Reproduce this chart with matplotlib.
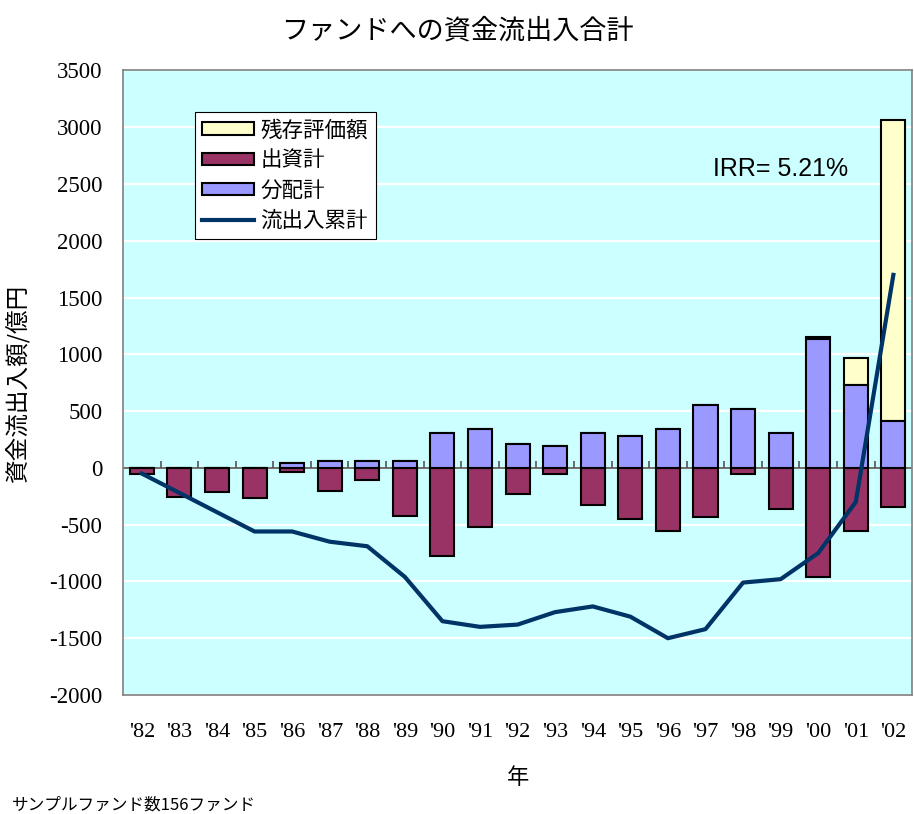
import matplotlib
matplotlib.use("Agg")
import matplotlib.pyplot as plt
import numpy as np

plt.rcParams['font.family'] = ['Noto Sans CJK JP', 'DejaVu Sans']

years = ["'82", "'83", "'84", "'85", "'86", "'87", "'88", "'89", "'90", "'91", "'92",
         "'93", "'94", "'95", "'96", "'97", "'98", "'99", "'00", "'01", "'02"]
distribution = [0, 0, 0, 0, 45, 60, 60, 60, 308, 343, 211, 193, 308, 281, 343, 554, 519, 308, 1135, 730, 413]
investment = [-50, -255, -215, -265, -40, -200, -110, -420, -780, -520, -228, -53, -325, -450, -553, -430, -53, -360, -965, -555, -343]
residual = [0, 0, 0, 0, 0, 0, 0, 0, 0, 0, 0, 0, 0, 0, 0, 0, 0, 0, 15, 237, 2655]
cumulative = [-50, -220, -390, -560, -560, -650, -690, -960, -1350, -1400, -1380, -1270, -1220,
              -1310, -1500, -1420, -1010, -980, -750, -300, 1700]
yticks = [-2000, -1500, -1000, -500, 0, 500, 1000, 1500, 2000, 2500, 3000, 3500]

fig = plt.figure(figsize=(9.14, 8.14), dpi=100)
ax = fig.add_axes([0.1346, 0.1462, 0.8634, 0.7672])
ax.set_facecolor('#CCFFFF')

x = np.arange(len(years))
w = 0.64
dist = np.array(distribution)
resid = np.array(residual)
b_res = ax.bar(x, resid, w, bottom=dist, color='#FFFFCC', edgecolor='black', linewidth=1.5,
               label='残存評価額', zorder=3)
b_inv = ax.bar(x, investment, w, color='#993366', edgecolor='black', linewidth=1.5,
               label='出資計', zorder=3)
b_dis = ax.bar(x, dist, w, color='#9999FF', edgecolor='black', linewidth=1.5,
               label='分配計', zorder=3)
ln, = ax.plot(x, cumulative, color='#003366', linewidth=3, label='流出入累計', zorder=4)

# zero axis with category tick marks
ax.axhline(0, color='#555555', linewidth=1.2, zorder=2.5)
bounds = np.arange(len(years) + 1) - 0.5
ax.vlines(bounds[1:-1], 0, 60, color='#555555', linewidth=1.2, zorder=2.5)

ax.set_xlim(-0.5, len(years) - 0.5)
ax.set_ylim(-2000, 3500)
ax.set_yticks(yticks)
ax.set_yticklabels([str(v) for v in yticks], fontfamily='Liberation Serif', fontsize=16.5)
ax.yaxis.grid(True, color='white', linewidth=1.6, zorder=1)
ax.set_axisbelow(True)
ax.tick_params(axis='y', length=0, pad=15)
ax.set_xticks(x)
ax.set_xticklabels(years, fontfamily='Liberation Serif', fontsize=16)
ax.tick_params(axis='x', length=0, pad=20)
for s in ax.spines.values():
    s.set_color('#808080')
    s.set_linewidth(1.2)

ax.set_xlabel('年', fontsize=16)
ax.xaxis.set_label_coords(0.5, -0.114)
ax.set_ylabel('資金流出入額/億円', fontsize=17)
ax.yaxis.set_label_coords(-0.118, 0.5)
fig.text(0.5, 0.962, 'ファンドへの資金流出入合計', ha='center', va='center', fontsize=19.5)
fig.text(0.013, 0.011, 'サンプルファンド数156ファンド', ha='left', va='center', fontsize=12)
ax.text(0.7475, 0.842, 'IRR= 5.21%', transform=ax.transAxes, fontfamily='Liberation Sans',
        fontsize=18, ha='left', va='center')

leg = ax.legend([b_res, b_inv, b_dis, ln], ['残存評価額', '出資計', '分配計', '流出入累計'],
                loc='upper left', bbox_to_anchor=(0.091, 0.934), fontsize=15.5,
                frameon=True, fancybox=False, edgecolor='black', framealpha=1,
                handlelength=2.4, handleheight=0.5, labelspacing=0.38,
                borderpad=0.35, handletextpad=0.3, borderaxespad=0)
leg.get_frame().set_linewidth(0.8)

fig.savefig('out.png', dpi=100)
